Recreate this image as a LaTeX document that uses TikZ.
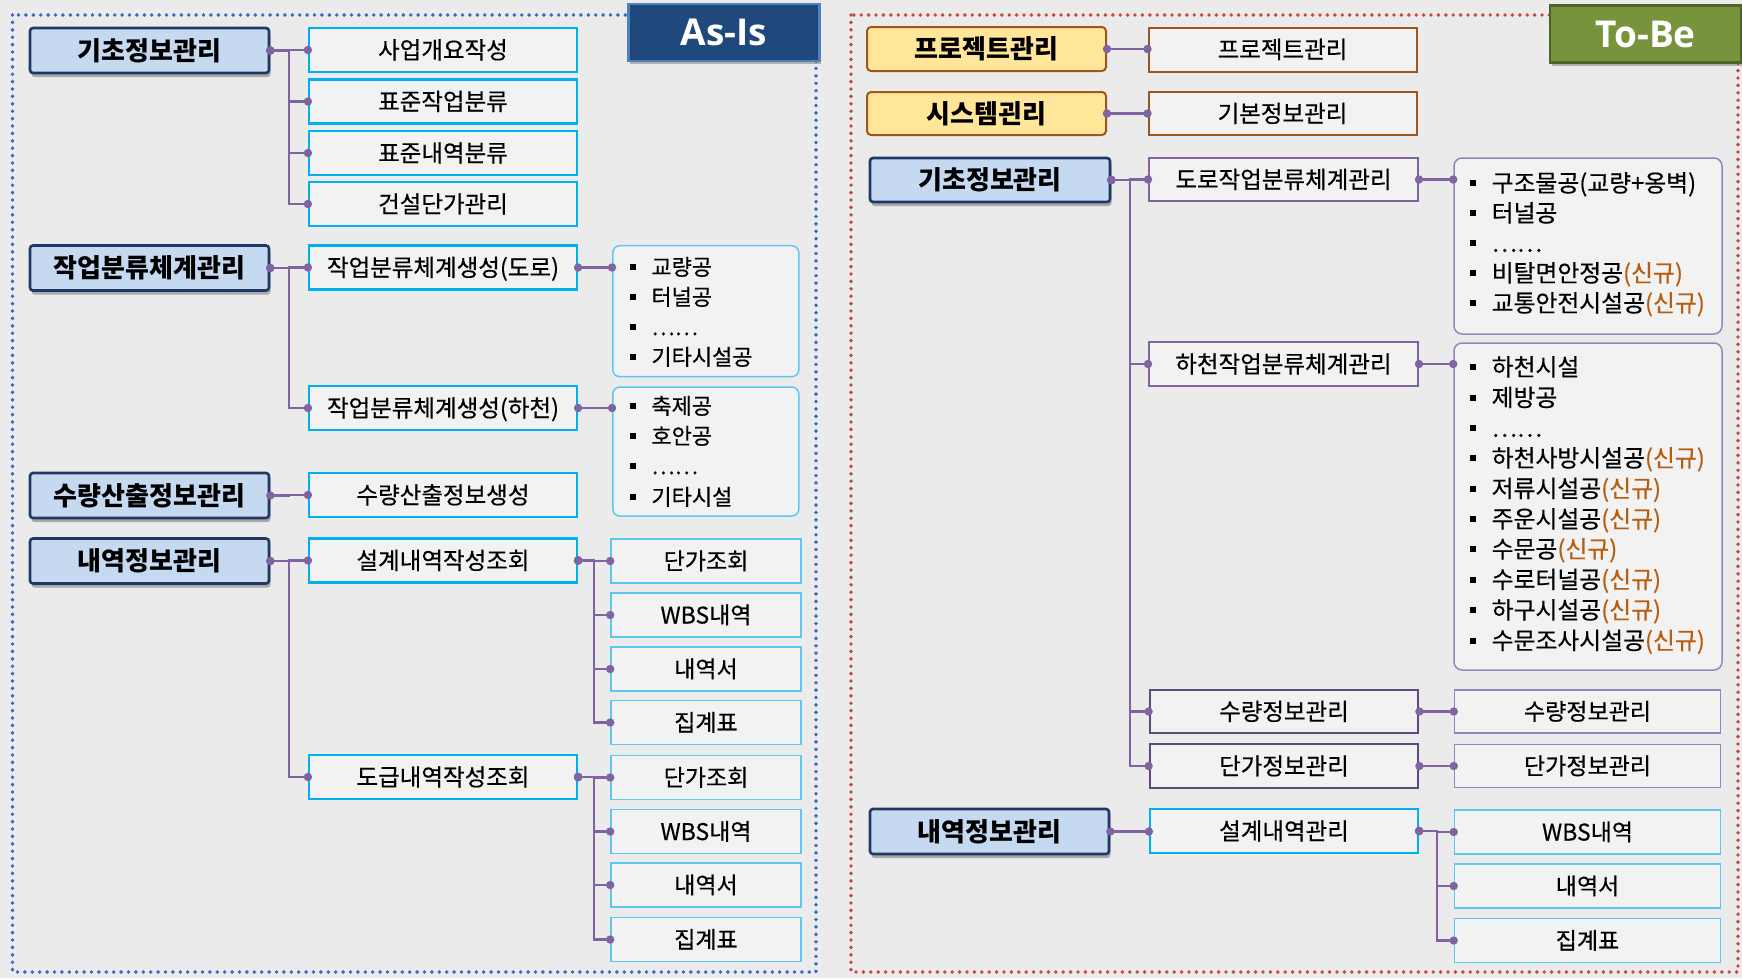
\documentclass[tikz,border=0pt]{standalone}
\usepackage{fontspec}
\setmainfont{Noto Sans CJK KR}
\newfontfamily\medfont{Noto Sans CJK KR}[FakeBold=0.4]
\newfontfamily\titlefont{Open Sans}
\usetikzlibrary{shadows}
\definecolor{bg}{RGB}{235,235,235}
\definecolor{boxfill}{RGB}{242,242,242}
\definecolor{mainfill}{RGB}{197,217,241}
\definecolor{mainborder}{RGB}{31,56,100}
\definecolor{yfill}{RGB}{255,230,153}
\definecolor{brownb}{RGB}{158,86,30}
\definecolor{cyanb}{RGB}{0,176,240}
\definecolor{cyanl}{RGB}{92,200,242}
\definecolor{purp}{RGB}{128,100,162}
\definecolor{purpd}{RGB}{96,74,123}
\definecolor{purpl}{RGB}{150,132,190}
\definecolor{asisfill}{RGB}{31,73,125}
\definecolor{asisborder}{RGB}{79,129,189}
\definecolor{tobefill}{RGB}{119,147,60}
\definecolor{tobeborder}{RGB}{79,98,40}
\definecolor{dotblue}{RGB}{58,104,196}
\definecolor{dotred}{RGB}{200,72,70}
\definecolor{newc}{RGB}{184,92,16}
\newcommand\bul{\raisebox{\dimexpr0.37em-3pt\relax}{\rule{6pt}{6pt}}\hspace{15.5pt}}
\newcommand\sg{\textcolor{newc}{(신규)}}
\newcommand\mybranch[3]{%
  \draw[conn] (#1.east) -- ([xshift=#3pt]#1.east) |- (#2.west);
  \fill[purp] (#1.east) circle (4.2pt) (#2.west) circle (4.2pt);}
\newcommand\mylink[2]{%
  \draw[conn] (#1.east) -- (#1.east -| #2.west);
  \fill[purp] (#1.east) circle (4.2pt) (#1.east -| #2.west) circle (4.2pt);}
\begin{document}
\begin{tikzpicture}[x=1pt,y=-1pt,
  every node/.style={inner sep=0pt},
  fmain/.style={font=\bfseries\fontsize{26}{30}\selectfont, text height=21.8pt, text depth=2.6pt},
  fsub/.style={font=\medfont\fontsize{23.5}{27}\selectfont, text height=19.7pt, text depth=2.35pt},
  fleaf/.style={font=\medfont\fontsize{23}{27}\selectfont, text height=19.3pt, text depth=2.3pt},
  mainbox/.style={fmain, draw=mainborder, line width=2.6pt, fill=mainfill, rounded corners=3pt,
     minimum width=239pt, minimum height=45pt,
     drop shadow={shadow xshift=1.5pt, shadow yshift=-4pt, opacity=0.28, fill=black}},
  ybox/.style={fmain, draw=brownb, line width=2pt, fill=yfill, rounded corners=4pt,
     minimum width=239pt, minimum height=44pt},
  brownbox/.style={fsub, draw=brownb, line width=2pt, fill=boxfill, minimum width=268pt, minimum height=44pt},
  subbox/.style={fsub, draw=cyanb, line width=2.2pt, fill=boxfill, minimum width=268pt, minimum height=44pt},
  pbox/.style={fsub, draw=purp, line width=2pt, fill=boxfill, minimum width=269pt, minimum height=44pt},
  pdbox/.style={fsub, draw=purpd, line width=2.8pt, fill=boxfill, minimum width=268pt, minimum height=44pt},
  plbox/.style={fleaf, draw=purpl, line width=1.5pt, fill=boxfill, minimum width=266pt, minimum height=43pt},
  leafA/.style={fleaf, draw=cyanl, line width=1.6pt, fill=boxfill, minimum width=190pt, minimum height=44pt},
  leafB/.style={fleaf, draw=cyanl, line width=1.6pt, fill=boxfill, minimum width=266pt, minimum height=44pt},
  listA/.style={draw=cyanl, line width=1.5pt, fill=boxfill, rounded corners=7pt, minimum width=186pt},
  listB/.style={draw=purpl, line width=1.5pt, fill=boxfill, rounded corners=8pt, minimum width=268pt},
  itemA/.style={anchor=west, font=\medfont\fontsize{22}{26}\selectfont, text height=18.5pt, text depth=2.2pt},
  itemB/.style={anchor=west, font=\medfont\fontsize{23.8}{27}\selectfont, text height=20pt, text depth=2.4pt},
  titlebox/.style={font=\titlefont\bfseries\fontsize{37}{42}\selectfont, text=white, text height=26.4pt, text depth=0pt,
     line width=2.2pt, minimum width=191pt, minimum height=57pt,
     drop shadow={shadow xshift=1.5pt, shadow yshift=-3pt, opacity=0.25, fill=black}},
  conn/.style={draw=purp, line width=2.2pt},
  dotline/.style={line width=3.9pt, line cap=round, dash pattern=on 0pt off 7.4pt}
]
\useasboundingbox (0,0) rectangle (1742,978);
\fill[bg] (0,0) rectangle (1742,978);

% frames
\draw[dotline, dotblue] (12.5,15) rectangle (816,972);
\draw[dotline, dotred] (851,15) rectangle (1738,972);

% titles
\node[titlebox, fill=asisfill, draw=asisborder] (asis) at (724,32.5) {As-Is};
\node[titlebox, fill=tobefill, draw=tobeborder] (tobe) at (1645.5,34) {To-Be};

% ===== As-Is =====
\node[mainbox] (a1) at (149.5,50.5) {기초정보관리};
\node[subbox] (a1a) at (443,50) {사업개요작성};
\node[subbox] (a1b) at (443,101.5) {표준작업분류};
\node[subbox] (a1c) at (443,153) {표준내역분류};
\node[subbox] (a1d) at (443,204) {건설단가관리};

\node[mainbox] (a2) at (149.5,268) {작업분류체계관리};
\node[subbox] (a2a) at (443,267.5) {작업분류체계생성(도로)};
\node[subbox] (a2b) at (443,408) {작업분류체계생성(하천)};

\node[listA, minimum height=131pt] (l1) at (705.8,311.2) {};
\node[listA, minimum height=129pt] (l2) at (705.8,451.5) {};
\node[itemA] (l1i1) at (629.7,267) {\bul 교량공};
\node[itemA] (l1i2) at (629.7,297) {\bul 터널공};
\node[itemA] (l1i3) at (629.7,327) {\bul ……};
\node[itemA] (l1i4) at (629.7,357) {\bul 기타시설공};
\node[itemA] (l2i1) at (629.7,406) {\bul 축제공};
\node[itemA] (l2i2) at (629.7,436) {\bul 호안공};
\node[itemA] (l2i3) at (629.7,466) {\bul ……};
\node[itemA] (l2i4) at (629.7,497) {\bul 기타시설};

\node[mainbox] (a3) at (149.5,495.5) {수량산출정보관리};
\node[subbox] (a3a) at (443,495) {수량산출정보생성};

\node[mainbox] (a4) at (149.5,561) {내역정보관리};
\node[subbox] (a4a) at (443,560.5) {설계내역작성조회};
\node[subbox] (a4b) at (443,777) {도급내역작성조회};

\node[leafA] (a4a1) at (706,561) {단가조회};
\node[leafA] (a4a2) at (706,615) {WBS내역};
\node[leafA] (a4a3) at (706,669) {내역서};
\node[leafA] (a4a4) at (706,722.5) {집계표};
\node[leafA] (a4b1) at (706,777.5) {단가조회};
\node[leafA] (a4b2) at (706,831.5) {WBS내역};
\node[leafA] (a4b3) at (706,885) {내역서};
\node[leafA] (a4b4) at (706,939.5) {집계표};

\mybranch{a1}{a1a}{19}
\mybranch{a1}{a1b}{19}
\mybranch{a1}{a1c}{19}
\mybranch{a1}{a1d}{19}
\mybranch{a2}{a2a}{19}
\mybranch{a2}{a2b}{19}
\mylink{a2a}{l1}
\mylink{a2b}{l2}
\mybranch{a3}{a3a}{19}
\mybranch{a4}{a4a}{19}
\mybranch{a4}{a4b}{19}
\mybranch{a4a}{a4a1}{16}
\mybranch{a4a}{a4a2}{16}
\mybranch{a4a}{a4a3}{16}
\mybranch{a4a}{a4a4}{16}
\mybranch{a4b}{a4b1}{16}
\mybranch{a4b}{a4b2}{16}
\mybranch{a4b}{a4b3}{16}
\mybranch{a4b}{a4b4}{16}

% ===== To-Be =====
\node[ybox] (p) at (986.5,49) {프로젝트관리};
\node[brownbox] (pa) at (1282.5,49.5) {프로젝트관리};
\node[ybox, minimum height=43pt] (s) at (986.5,113.5) {시스템괸리};
\node[brownbox, minimum height=43pt] (sa) at (1282.5,113.5) {기본정보관리};

\node[mainbox, minimum width=240pt, minimum height=44pt] (b) at (990,180) {기초정보관리};
\node[pbox, minimum height=43pt] (ba) at (1283.5,179.5) {도로작업분류체계관리};
\node[pbox] (bb) at (1283.5,364) {하천작업분류체계관리};
\node[pdbox, minimum height=43pt] (bc) at (1284,711.5) {수량정보관리};
\node[pdbox] (bd) at (1284,766) {단가정보관리};
\node[plbox] (bc2) at (1587.5,711.5) {수량정보관리};
\node[plbox] (bd2) at (1587.5,766) {단가정보관리};

\node[listB, minimum height=176pt] (lb1) at (1588,246) {};
\node[listB, minimum height=327pt] (lb2) at (1588,506.5) {};
\node[itemB] (m1i1) at (1470,183) {\bul 구조물공(교량+옹벽)};
\node[itemB] (m1i2) at (1470,213) {\bul 터널공};
\node[itemB] (m1i3) at (1470,243) {\bul ……};
\node[itemB] (m1i4) at (1470,273) {\bul 비탈면안정공\sg};
\node[itemB] (m1i5) at (1470,303) {\bul 교통안전시설공\sg};
\node[itemB] (m2i1) at (1470,367) {\bul 하천시설};
\node[itemB] (m2i2) at (1470,397.5) {\bul 제방공};
\node[itemB] (m2i3) at (1470,428) {\bul ……};
\node[itemB] (m2i4) at (1470,458) {\bul 하천사방시설공\sg};
\node[itemB] (m2i5) at (1470,488.5) {\bul 저류시설공\sg};
\node[itemB] (m2i6) at (1470,519) {\bul 주운시설공\sg};
\node[itemB] (m2i7) at (1470,549) {\bul 수문공\sg};
\node[itemB] (m2i8) at (1470,579.5) {\bul 수로터널공\sg};
\node[itemB] (m2i9) at (1470,610) {\bul 하구시설공\sg};
\node[itemB] (m2i10) at (1470,640.5) {\bul 수문조사시설공\sg};

\node[mainbox] (d) at (989.5,831.5) {내역정보관리};
\node[subbox] (da) at (1284,831) {설계내역관리};
\node[leafB] (da1) at (1587.5,832) {WBS내역};
\node[leafB] (da2) at (1587.5,886) {내역서};
\node[leafB] (da3) at (1587.5,940.5) {집계표};

\mylink{p}{pa}
\mylink{s}{sa}
\mybranch{b}{ba}{19}
\mybranch{b}{bb}{19}
\mybranch{b}{bc}{19}
\mybranch{b}{bd}{19}
\mylink{ba}{lb1}
\mylink{bb}{lb2}
\mylink{bc}{bc2}
\mylink{bd}{bd2}
\mylink{d}{da}
\mybranch{da}{da1}{18}
\mybranch{da}{da2}{18}
\mybranch{da}{da3}{18}
\end{tikzpicture}
\end{document}
